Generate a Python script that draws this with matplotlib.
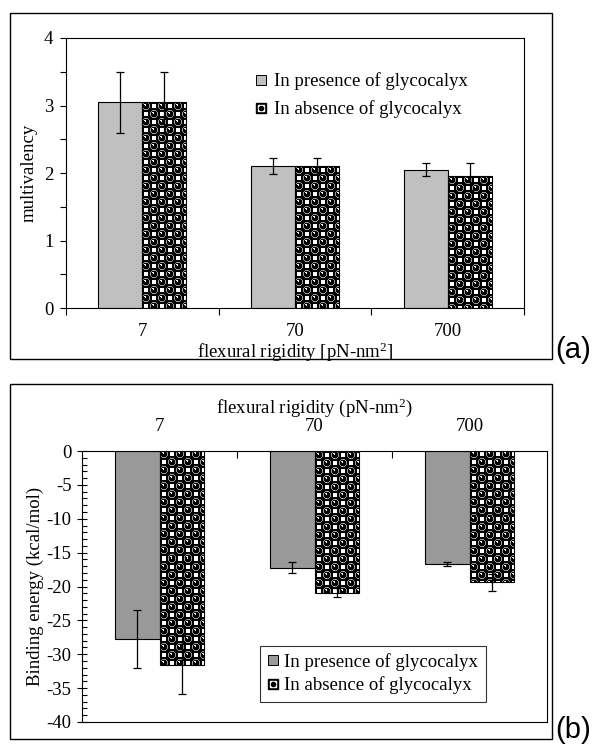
import numpy as np
import matplotlib
matplotlib.use("Agg")
import matplotlib.pyplot as plt
from matplotlib.patches import Rectangle
from matplotlib.lines import Line2D
from matplotlib.legend_handler import HandlerTuple
from matplotlib.ticker import MultipleLocator, FixedLocator

plt.rcParams["font.family"] = ["Liberation Serif", "DejaVu Serif"]
plt.rcParams["mathtext.fontset"] = "custom"
plt.rcParams["mathtext.rm"] = "Liberation Serif"
plt.rcParams["mathtext.it"] = "Liberation Serif:italic"
plt.rcParams["axes.unicode_minus"] = False

# flexural rigidity levels (pN-nm^2)
rigidity = ["7", "70", "700"]
series_names = ["In presence of glycocalyx", "In absence of glycocalyx"]

# panel (a): multivalency
mult_present = [3.05, 2.10, 2.05]
mult_present_err = [0.45, 0.12, 0.10]
mult_absent = [3.05, 2.10, 1.95]
mult_absent_err = [0.45, 0.12, 0.20]

# panel (b): binding energy (kcal/mol)
energy_present = [-27.8, -17.2, -16.7]
energy_present_err = [4.3, 0.8, 0.3]
energy_absent = [-31.6, -20.9, -19.4]
energy_absent_err = [4.3, 0.7, 1.2]

W, H = 596, 749
BAR_W = 0.288
FS = 13.5


def ball_tile(cell=8):
    """Black ground with shaded balls and white squares on a checkerboard."""
    n = 2 * cell
    yy, xx = np.mgrid[0:n, 0:n] + 0.5
    img = np.zeros((n, n))
    half = cell / 2
    # white squares in the empty cells
    for cy, cx in [(half, half + cell), (half + cell, half)]:
        sq = (np.abs(yy - cy) < 2.5) & (np.abs(xx - cx) < 2.5)
        img[sq] = 1.0
    # balls: grey rim, black body, small highlight
    for cy, cx in [(half, half), (half + cell, half + cell)]:
        d = np.hypot(yy - cy, xx - cx)
        img[(d > 3.2) & (d < 4.2)] = 0.6
        hd = np.hypot(yy - cy + 1.4, xx - cx + 0.9)
        img[hd < 1.0] = 0.95
    return np.dstack([img, img, img])


TILE = ball_tile()


def patterned_bar(ax, x, top, bottom):
    """Fill a bar with the ball texture at screen resolution."""
    x0, x1 = x - BAR_W / 2, x + BAR_W / 2
    p0 = ax.transData.transform((x0, top))
    p1 = ax.transData.transform((x1, bottom))
    pw = max(int(round(abs(p1[0] - p0[0]))), 1)
    ph = max(int(round(abs(p1[1] - p0[1]))), 1)
    reps_y = ph // TILE.shape[0] + 2
    reps_x = pw // TILE.shape[1] + 2
    img = np.tile(TILE, (reps_y, reps_x, 1))[:ph, :pw]
    ax.imshow(img, extent=[x0, x1, bottom, top], origin="upper",
              interpolation="nearest", aspect="auto", zorder=2)
    ax.add_patch(Rectangle((x0, min(top, bottom)), BAR_W, abs(top - bottom),
                           fill=False, edgecolor="black", lw=0.8, zorder=3))


def legend_handles(gray):
    plain = Line2D([], [], ls="none", marker="s", ms=6.5,
                   mfc=gray, mec="black", mew=0.7)
    balls = (Line2D([], [], ls="none", marker="s", ms=6.5, mfc="black", mec="black"),
             Line2D([], [], ls="none", marker="s", ms=4, mfc="white", mec="white"),
             Line2D([], [], ls="none", marker="o", ms=3, mfc="black", mec="black"))
    return [plain, balls]


fig = plt.figure(figsize=(W / 100, H / 100), dpi=100)
fig.patch.set_facecolor("white")

# outer frames around each panel
for (bx0, by0, bx1, by1) in [(10, 13, 552, 359), (10, 384, 552, 739)]:
    fig.add_artist(Rectangle((bx0 / W, 1 - by1 / H), (bx1 - bx0) / W, (by1 - by0) / H,
                             transform=fig.transFigure, fill=False,
                             edgecolor="black", lw=1.0))

xs = np.arange(len(rigidity))

# ---------------- panel (a) ----------------
ax_a = fig.add_axes([66 / W, 1 - 308 / H, 458 / W, 270 / H])
gray_a = "#c0c0c0"
ax_a.set_xlim(-0.5, 2.5)
ax_a.set_ylim(0, 4)
ax_a.bar(xs - BAR_W / 2, mult_present, BAR_W, color=gray_a,
         edgecolor="black", lw=0.8, zorder=2)
for x, v in zip(xs, mult_absent):
    patterned_bar(ax_a, x + BAR_W / 2, v, 0)
ax_a.errorbar(xs - BAR_W / 2, mult_present, yerr=mult_present_err, fmt="none",
              ecolor="black", elinewidth=0.9, capsize=3, capthick=0.9, zorder=4)
ax_a.errorbar(xs + BAR_W / 2, mult_absent, yerr=mult_absent_err, fmt="none",
              ecolor="black", elinewidth=0.9, capsize=3, capthick=0.9, zorder=4)
ax_a.set_xlim(-0.5, 2.5)
ax_a.set_ylim(0, 4)

ax_a.yaxis.set_major_locator(MultipleLocator(1))
ax_a.yaxis.set_minor_locator(MultipleLocator(0.5))
ax_a.xaxis.set_major_locator(FixedLocator([-0.5, 0.5, 1.5, 2.5]))
ax_a.xaxis.set_minor_locator(FixedLocator(xs))
ax_a.set_xticklabels([])
ax_a.set_xticklabels(rigidity, minor=True)
ax_a.tick_params(axis="x", which="major", direction="out", length=5, width=0.8)
ax_a.tick_params(axis="x", which="minor", length=0, pad=11, labelsize=FS)
ax_a.tick_params(axis="y", which="both", direction="out", length=4, width=0.8,
                 labelsize=FS, pad=5)
ax_a.set_xlabel(r"flexural rigidity [pN-nm$^{2}$]", fontsize=FS, labelpad=0)
ax_a.set_ylabel("multivalency", fontsize=FS, labelpad=5)
for sp in ax_a.spines.values():
    sp.set_linewidth(0.8)

leg_a = ax_a.legend(legend_handles(gray_a), series_names,
                    handler_map={tuple: HandlerTuple(ndivide=1)},
                    loc="upper left", bbox_to_anchor=(0.375, 0.935),
                    frameon=False, fontsize=FS, handlelength=0.7,
                    handletextpad=0.35, labelspacing=0.55)

fig.text(555 / W, 1 - 358 / H, "(a)", fontsize=21, family="Liberation Sans",
         ha="left", va="baseline")

# ---------------- panel (b) ----------------
ax_b = fig.add_axes([82 / W, 1 - 722 / H, 465 / W, 271 / H])
gray_b = "#999999"
ax_b.set_xlim(-0.5, 2.5)
ax_b.set_ylim(-40, 0)
ax_b.bar(xs - BAR_W / 2, energy_present, BAR_W, color=gray_b,
         edgecolor="black", lw=0.8, zorder=2)
for x, v in zip(xs, energy_absent):
    patterned_bar(ax_b, x + BAR_W / 2, 0, v)
ax_b.errorbar(xs - BAR_W / 2, energy_present, yerr=energy_present_err, fmt="none",
              ecolor="black", elinewidth=0.9, capsize=3, capthick=0.9, zorder=4)
ax_b.errorbar(xs + BAR_W / 2, energy_absent, yerr=energy_absent_err, fmt="none",
              ecolor="black", elinewidth=0.9, capsize=3, capthick=0.9, zorder=4)
ax_b.set_xlim(-0.5, 2.5)
ax_b.set_ylim(-40, 0)

ax_b.xaxis.tick_top()
ax_b.xaxis.set_label_position("top")
ax_b.xaxis.set_major_locator(FixedLocator([0.5, 1.5]))
ax_b.xaxis.set_minor_locator(FixedLocator(xs))
ax_b.set_xticklabels([])
ax_b.set_xticklabels(rigidity, minor=True)
ax_b.tick_params(axis="x", which="major", direction="in", length=5, width=0.8)
ax_b.tick_params(axis="x", which="minor", top=True, bottom=False, length=0,
                 pad=11.5, labelsize=FS)
ax_b.yaxis.set_major_locator(MultipleLocator(5))
ax_b.yaxis.set_minor_locator(MultipleLocator(1))
ax_b.tick_params(axis="y", which="major", direction="inout", length=7, width=0.8,
                 labelsize=FS, pad=4)
ax_b.tick_params(axis="y", which="minor", direction="in", length=3.5, width=0.8)
ax_b.set_xlabel(r"flexural rigidity (pN-nm$^{2}$)", fontsize=FS, labelpad=3.5)
ax_b.set_ylabel("Binding energy (kcal/mol)", fontsize=FS, labelpad=2)
for sp in ax_b.spines.values():
    sp.set_linewidth(0.8)

leg_b = ax_b.legend(legend_handles(gray_b), series_names,
                    handler_map={tuple: HandlerTuple(ndivide=1)},
                    loc="lower left", bbox_to_anchor=(0.383, 0.074),
                    frameon=True, fancybox=False, fontsize=FS,
                    handlelength=0.6, handletextpad=0.3, labelspacing=0.3,
                    borderpad=0.4, borderaxespad=0)
leg_b.get_frame().set_edgecolor("black")
leg_b.get_frame().set_linewidth(0.8)

fig.text(555 / W, 1 - 738 / H, "(b)", fontsize=21, family="Liberation Sans",
         ha="left", va="baseline")

fig.savefig("out.png", dpi=100)
